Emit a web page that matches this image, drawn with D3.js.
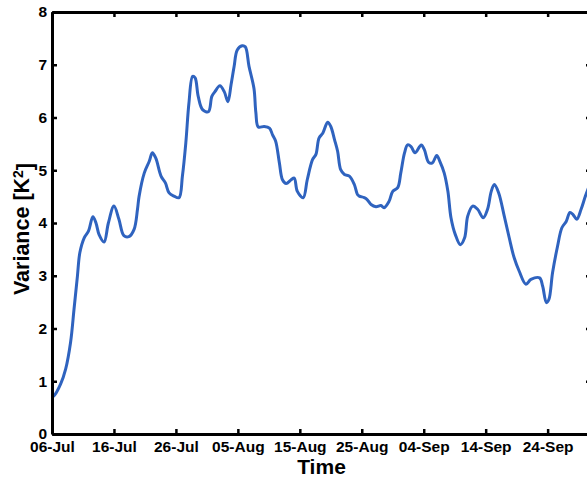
<!DOCTYPE html>
<html>
<head>
<meta charset="utf-8">
<script src="https://cdn.jsdelivr.net/npm/d3@7"></script>
<style>
  html, body { margin: 0; padding: 0; background: #fff; }
  svg { display: block; font-family: "Liberation Sans", Arial, sans-serif; }
</style>
</head>
<body>
<svg id="chart" width="587" height="477"></svg>
<script>
// Time axis: days elapsed since 06-Jul, and the variance reading at each time
const dayOffsets = [
  0.0, 0.3, 1.4, 2.2, 3.0, 3.55, 4.1, 4.5, 5.2, 5.9, 6.6, 7.1, 7.6, 8.4, 9.1,
  10.0, 10.8, 11.6, 12.4, 13.25, 13.8, 14.05, 14.9, 15.7, 16.2, 16.75, 17.6,
  18.3, 18.9, 19.7, 20.5, 21.05, 21.6, 22.1, 22.7, 23.1, 23.6, 24.3, 25.25,
  25.8, 26.3, 27.1, 27.8, 28.4, 28.9, 29.4, 29.9, 30.7, 31.2, 31.8, 32.6,
  32.9, 33.3, 34.25, 35.1, 35.6, 36.1, 36.7, 37.2, 37.8, 38.6, 39.1, 39.6,
  40.55, 41.2, 42.05, 42.6, 43.1, 43.7, 44.5, 45.0, 45.6, 46.1, 46.6, 47.2,
  48.0, 48.8, 49.3, 49.6, 50.4, 50.9, 51.5, 52.3, 53.1, 53.6, 54.4, 55.0,
  55.8, 56.3, 56.9, 57.4, 57.95, 58.6, 59.6, 60.1, 60.8, 61.4, 62.1, 62.6,
  63.3, 63.9, 64.4, 65.1, 65.9, 66.6, 67.1, 67.9, 68.7, 69.6, 70.3, 70.9,
  71.4, 72.1, 73.0, 73.8, 74.6, 75.4, 76.5, 77.3, 78.7, 79.2, 79.8, 80.2,
  80.8, 81.6, 82.3, 83.0, 83.6, 84.1, 84.7, 85.4, 86.1, 86.7
];
const variance = [
  0.70, 0.72, 0.95, 1.23, 1.74, 2.36, 2.99, 3.44, 3.72, 3.85, 4.12, 4.00, 3.78, 3.64, 4.00,
  4.32, 4.07, 3.76, 3.74, 3.88, 4.26, 4.50, 4.95, 5.17, 5.33, 5.23, 4.89,
  4.76, 4.57, 4.51, 4.48, 4.89, 5.52, 6.27, 6.78, 6.75, 6.40, 6.15, 6.11,
  6.40, 6.49, 6.60, 6.49, 6.30, 6.62, 6.97, 7.28, 7.36, 7.34, 6.97, 6.55,
  6.10, 5.82, 5.83, 5.80, 5.67, 5.55, 5.14, 4.82, 4.75, 4.82, 4.85, 4.60,
  4.48, 4.82, 5.20, 5.30, 5.61, 5.70, 5.91, 5.83, 5.58, 5.36, 5.01, 4.92,
  4.89, 4.73, 4.54, 4.51, 4.48, 4.44, 4.35, 4.31, 4.33, 4.29, 4.41, 4.60,
  4.67, 4.95, 5.33, 5.48, 5.45, 5.33, 5.48, 5.39, 5.15, 5.14, 5.28, 5.17,
  4.95, 4.60, 4.10, 3.78, 3.59, 3.72, 4.13, 4.32, 4.26, 4.10, 4.26, 4.60,
  4.73, 4.57, 4.13, 3.72, 3.34, 3.09, 2.84, 2.93, 2.96, 2.80, 2.49, 2.55,
  3.06, 3.56, 3.91, 4.03, 4.20, 4.16, 4.07, 4.26, 4.51, 4.70
];

// Axis ranges and tick labels
const startDate = "2014-07-06";
const endDate = "2014-10-01";
const xTickLabels = ["06-Jul", "16-Jul", "26-Jul", "05-Aug", "15-Aug", "25-Aug", "04-Sep", "14-Sep", "24-Sep"];
const yTicks = [0, 1, 2, 3, 4, 5, 6, 7, 8];

const parseDay = d3.utcParse("%Y-%m-%d");
const t0 = parseDay(startDate);
const t1 = parseDay(endDate);
const series = dayOffsets.map((d, i) => ({ t: new Date(t0.getTime() + d * 864e5), v: variance[i] }));
const xTickDates = xTickLabels.map((_, i) => d3.utcDay.offset(t0, i * 10));

const svg = d3.select("#chart");
const plot = { left: 52, right: 591, top: 12, bottom: 434 };

const x = d3.scaleUtc().domain([t0, t1]).range([plot.left, plot.right]);
const y = d3.scaleLinear().domain([0, 8]).range([plot.bottom, plot.top]);

svg.append("defs").append("clipPath").attr("id", "plot-clip")
  .append("rect")
  .attr("x", plot.left).attr("y", plot.top)
  .attr("width", plot.right - plot.left).attr("height", plot.bottom - plot.top);

// Variance curve
const line = d3.line()
  .x(d => x(d.t))
  .y(d => y(d.v))
  .curve(d3.curveCatmullRom.alpha(0.5));

svg.append("path")
  .datum(series)
  .attr("clip-path", "url(#plot-clip)")
  .attr("fill", "none")
  .attr("stroke", "#2f63bf")
  .attr("stroke-width", 3)
  .attr("stroke-linejoin", "round")
  .attr("d", line);

// Frame with inward ticks on all four sides
const fmt = (d, i) => xTickLabels[i];
const tickLen = 5;

function styleAxis(g, labels) {
  g.select(".domain").attr("stroke", "#000").attr("stroke-width", 3);
  g.selectAll(".tick line").attr("stroke", "#000").attr("stroke-width", 2.5);
  g.selectAll(".tick text")
    .attr("fill", "#000")
    .style("font-size", "15.5px")
    .style("font-weight", "bold")
    .style("display", labels ? null : "none");
}

svg.append("g")
  .attr("transform", `translate(0,${plot.bottom})`)
  .call(d3.axisBottom(x).tickValues(xTickDates).tickFormat(fmt)
    .tickSizeInner(-tickLen).tickSizeOuter(0).tickPadding(7))
  .call(g => styleAxis(g, true));

svg.append("g")
  .attr("transform", `translate(0,${plot.top})`)
  .call(d3.axisTop(x).tickValues(xTickDates).tickFormat(fmt)
    .tickSizeInner(-tickLen).tickSizeOuter(0))
  .call(g => styleAxis(g, false));

svg.append("g")
  .attr("transform", `translate(${plot.left},0)`)
  .call(d3.axisLeft(y).tickValues(yTicks).tickFormat(d3.format("d"))
    .tickSizeInner(-tickLen).tickSizeOuter(0).tickPadding(5))
  .call(g => styleAxis(g, true));

svg.append("g")
  .attr("transform", `translate(${plot.right},0)`)
  .call(d3.axisRight(y).tickValues(yTicks)
    .tickSizeInner(-tickLen).tickSizeOuter(0))
  .call(g => styleAxis(g, false));

// Axis titles
svg.append("text")
  .attr("x", (plot.left + plot.right) / 2)
  .attr("y", 474)
  .attr("text-anchor", "middle")
  .style("font-size", "21px")
  .style("font-weight", "bold")
  .text("Time");

const yTitle = svg.append("text")
  .attr("transform", `translate(29,${(plot.top + plot.bottom) / 2 + 6}) rotate(-90)`)
  .attr("text-anchor", "middle")
  .style("font-size", "21.5px")
  .style("font-weight", "bold");
yTitle.append("tspan").text("Variance [K");
yTitle.append("tspan").attr("dy", "-0.45em").style("font-size", "14px").text("2");
yTitle.append("tspan").attr("dy", "0.45em").text("]");
</script>
</body>
</html>
